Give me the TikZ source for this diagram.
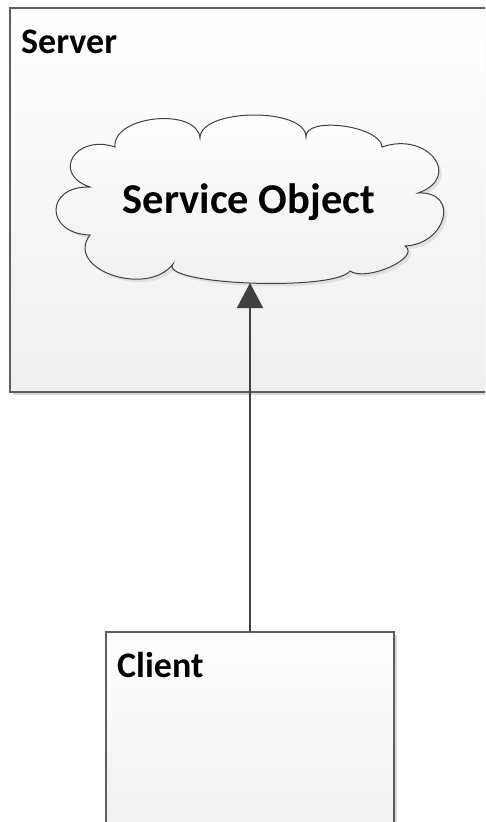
\documentclass[tikz,border=0pt]{standalone}
\usepackage{fontspec}
\setmainfont{Carlito}
\usetikzlibrary{arrows.meta}
\definecolor{edgegray}{HTML}{5E5E5E}
\definecolor{arrowgray}{HTML}{404040}
\definecolor{fillgray}{HTML}{EFEFEF}
\definecolor{shadowgray}{HTML}{D8D8D8}
\tikzset{
  box/.style={draw=edgegray, line width=2pt, top color=white, bottom color=fillgray, shading angle=0, inner sep=0pt, outer sep=0pt},
  boxshadow/.style={fill=shadowgray, draw=none},
  lbl/.style={font=\fontsize{36}{40}\selectfont\bfseries, inner sep=0pt, anchor=base west},
  biglbl/.style={font=\fontsize{42.5}{46}\selectfont\bfseries, inner sep=0pt, anchor=base},
  cloudline/.style={draw=arrowgray, line width=1pt, top color=white, bottom color=fillgray},
  arr/.style={draw=arrowgray, line width=2pt, -{Triangle[length=25pt,width=26pt]}}
}
\begin{document}
\begin{tikzpicture}[x=1pt,y=-1pt]
\useasboundingbox (0,0) rectangle (485,822);
\clip (0,0) rectangle (485,822);
\fill[white] (0,0) rectangle (485,822);
% shadows
\fill[boxshadow] (13,11) rectangle (490,395);
\fill[boxshadow] (109,635) rectangle (397,840);
% boxes
\node[box, minimum width=477pt, minimum height=384pt, anchor=north west] (server) at (10,8) {};
\node[box, minimum width=288pt, minimum height=210pt, anchor=north west] (client) at (106,632) {};
\node[lbl] (serverlbl) at (21,53) {Server};
\node[lbl] (clientlbl) at (117,677) {Client};
% cloud shadow
\fill[shadowgray, opacity=0.7, shift={(3,3)}]
  (115,147) .. controls (111.7,115.7) and (196.7,106.7) .. (200,138)
  .. controls (200,108) and (306,107) .. (306,137)
  .. controls (304.7,115.7) and (380.7,125.7) .. (382,147)
  .. controls (427.3,131) and (463.3,177) .. (418,193)
  .. controls (460,191) and (447,244) .. (405,246)
  .. controls (421.7,257.3) and (366.7,282.3) .. (350,271)
  .. controls (334.7,291.7) and (157.7,284.7) .. (173,264)
  .. controls (147,298) and (64,269) .. (90,235)
  .. controls (44.7,233.7) and (44.7,185.7) .. (90,187)
  .. controls (50.7,173.7) and (75.7,133.7) .. (115,147) -- cycle;
% cloud
\path[cloudline]
  (115,147) .. controls (111.7,115.7) and (196.7,106.7) .. (200,138)
  .. controls (200,108) and (306,107) .. (306,137)
  .. controls (304.7,115.7) and (380.7,125.7) .. (382,147)
  .. controls (427.3,131) and (463.3,177) .. (418,193)
  .. controls (460,191) and (447,244) .. (405,246)
  .. controls (421.7,257.3) and (366.7,282.3) .. (350,271)
  .. controls (334.7,291.7) and (157.7,284.7) .. (173,264)
  .. controls (147,298) and (64,269) .. (90,235)
  .. controls (44.7,233.7) and (44.7,185.7) .. (90,187)
  .. controls (50.7,173.7) and (75.7,133.7) .. (115,147) -- cycle;
\coordinate (svcbottom) at (250,283);
\node[biglbl] (svc) at (249,213) {Service Object};
% connector
\draw[arr] (client.north) -- (svcbottom);
\end{tikzpicture}
\end{document}
